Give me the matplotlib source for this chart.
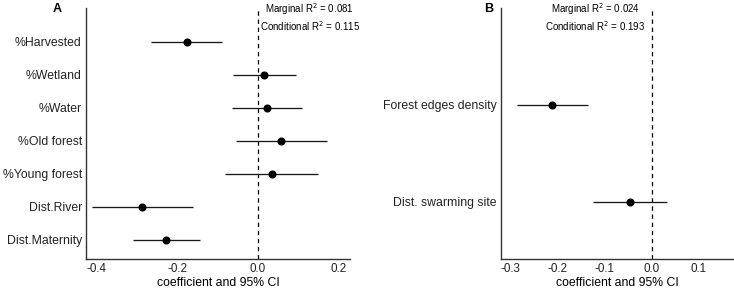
import numpy as np
import matplotlib.pyplot as plt

plt.rcParams["font.family"] = ["Liberation Sans", "DejaVu Sans"]

# panel A
vars_a = ["%Harvested", "%Wetland", "%Water", "%Old forest", "%Young forest", "Dist.River", "Dist.Maternity"]
coef_a = [-0.176, 0.016, 0.022, 0.057, 0.034, -0.288, -0.227]
low_a = [-0.266, -0.061, -0.064, -0.055, -0.082, -0.413, -0.310]
high_a = [-0.088, 0.094, 0.109, 0.172, 0.150, -0.162, -0.144]
r2_a = ["Marginal R$^2$ = 0.081", "Conditional R$^2$ = 0.115"]

# panel B
vars_b = ["Forest edges density", "Dist. swarming site"]
coef_b = [-0.211, -0.0465]
low_b = [-0.286, -0.125]
high_b = [-0.135, 0.032]
r2_b = ["Marginal R$^2$ = 0.024", "Conditional R$^2$ = 0.193"]


def forest_plot(ax, labels, coef, low, high, r2, letter, xlim, ylim, xticks, r2_x):
    y = np.arange(len(labels))[::-1]
    ax.hlines(y, low, high, color="#1a1a1a", lw=0.95, zorder=2)
    ax.plot(coef, y, "o", color="black", ms=4.8, zorder=3)
    ax.axvline(0, color="black", lw=0.9, ls=(0, (3.5, 3)), zorder=1)
    ax.set_yticks(y)
    ax.set_yticklabels(labels, fontsize=8.8)
    ax.set_xticks(xticks)
    ax.set_xticklabels(["%.1f" % t for t in xticks], fontsize=8.4)
    ax.set_xlim(xlim)
    ax.set_ylim(ylim)
    ax.set_xlabel("coefficient and 95% CI", fontsize=8.8, labelpad=1)
    ax.tick_params(length=0, pad=3, colors="#222222")
    for s in ["top", "right"]:
        ax.spines[s].set_visible(False)
    for s in ["left", "bottom"]:
        ax.spines[s].set_color("#333333")
        ax.spines[s].set_linewidth(1.0)
    ax.text(r2_x, 0.996, r2[0], transform=ax.get_xaxis_transform(), ha="center", va="center", fontsize=7)
    ax.text(r2_x, 0.929, r2[1], transform=ax.get_xaxis_transform(), ha="center", va="center", fontsize=7)
    ax.text(-0.11, 0.998, letter, transform=ax.transAxes, ha="center", va="center",
            fontsize=9, fontweight="bold")


fig = plt.figure(figsize=(7.34, 2.9), dpi=100)
ax_a = fig.add_axes([86 / 734, 31 / 290, 264 / 734, 251 / 290])
ax_b = fig.add_axes([501 / 734, 31 / 290, 232 / 734, 251 / 290])

forest_plot(ax_a, vars_a, coef_a, low_a, high_a, r2_a, "A",
            (-0.427, 0.229), (-0.576, 7.03), [-0.4, -0.2, 0.0, 0.2], 0.129)
forest_plot(ax_b, vars_b, coef_b, low_b, high_b, r2_b, "B",
            (-0.319, 0.172), (-0.588, 2.0), [-0.3, -0.2, -0.1, 0.0, 0.1], -0.12)
ax_b.texts[-1].set_x(-0.055)

fig.savefig("out.png", dpi=100)
